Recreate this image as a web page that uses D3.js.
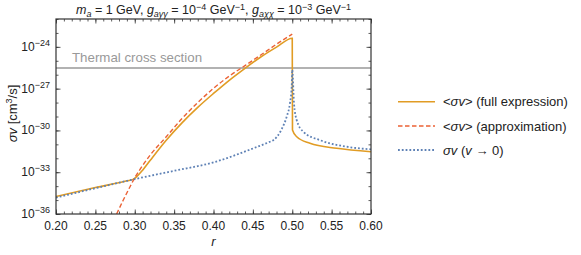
<!DOCTYPE html>
<html lang="en">
<head>
<meta charset="UTF-8">
<title>Annihilation cross section</title>
<script src="https://d3js.org/d3.v7.min.js"></script>
<style>
  body { margin: 0; background: #fff; font-family: "Liberation Sans", Arial, sans-serif; }
  svg text { fill: #222; }
</style>
</head>
<body>
<svg width="581" height="255"></svg>
<script>
// values (r, sigma v in cm^3/s)
const fullR   = [0.20, 0.25, 0.29, 0.2985, 0.3025, 0.31, 0.32, 0.34, 0.36, 0.38, 0.40, 0.42, 0.44, 0.46, 0.48, 0.50, 0.5003, 0.5057, 0.5225, 0.5564, 0.60];
const fullSv  = [1.8e-35, 7.9e-35, 2.4e-34, 3.2e-34, 4.8e-34, 1.4e-33, 7.6e-33, 2.0e-31, 3.5e-30, 4.5e-29, 4.5e-28, 4.0e-27, 2.9e-26, 1.86e-25, 9.5e-25, 4.2e-24, 1.07e-30, 3.5e-31, 1.2e-31, 5.2e-32, 2.95e-32];

const approxR  = [0.277, 0.285, 0.294, 0.30, 0.3067, 0.32, 0.34, 0.36, 0.38, 0.40, 0.42, 0.44, 0.46, 0.48, 0.50];
const approxSv = [1e-36, 8.9e-36, 9.1e-35, 4.0e-34, 1.6e-33, 1.8e-32, 3.5e-31, 7.1e-30, 1e-28, 1.05e-27, 7.9e-27, 4.5e-26, 2.6e-25, 1.55e-24, 8.3e-24];

const zeroR  = [0.20, 0.25, 0.30, 0.35, 0.40, 0.4506, 0.4717, 0.476, 0.486, 0.493, 0.4971, 0.4993, 0.50, 0.5022, 0.5056, 0.514, 0.5352, 0.5691, 0.60];
const zeroSv = [1.5e-35, 7.1e-35, 3.2e-34, 1.26e-33, 5.1e-33, 5.2e-32, 1.55e-31, 2.0e-31, 1.07e-30, 1e-29, 8.9e-29, 1.4e-27, 2.2e-26, 8.9e-29, 5.6e-30, 8.1e-31, 2.0e-31, 6.8e-32, 4.4e-32];

const thermal = 3e-26;

const xTicks = [0.20, 0.25, 0.30, 0.35, 0.40, 0.45, 0.50, 0.55, 0.60];
const yTickExp = [-36, -33, -30, -27, -24];

const svg = d3.select("svg");
const mLeft = 56, mRight = 371, mTop = 19, mBottom = 214;

const x = d3.scaleLinear().domain([0.2, 0.6]).range([mLeft, mRight]);
const y = d3.scaleLog().domain([1e-36, 1e-22]).range([mBottom, mTop]);

const frameColor = "#333";

svg.append("clipPath").attr("id", "plot")
  .append("rect").attr("x", mLeft).attr("y", mTop)
  .attr("width", mRight - mLeft).attr("height", mBottom - mTop);

// ticks (inward, on all four sides)
const xMinor = d3.range(0.20, 0.6001, 0.01);
const yMinor = d3.range(-36, -21).map(e => Math.pow(10, e));
const yMajor = yTickExp.map(e => Math.pow(10, e));

function tickAxis(axisFn, scale, vals, size, tr) {
  svg.append("g").attr("transform", tr)
    .call(axisFn(scale).tickValues(vals).tickSizeInner(-size).tickSizeOuter(0).tickFormat(""))
    .call(g => g.select(".domain").remove())
    .call(g => g.selectAll("line").attr("stroke", frameColor).attr("stroke-width", 0.8));
}
tickAxis(d3.axisBottom, x, xMinor, 2.5, `translate(0,${mBottom})`);
tickAxis(d3.axisBottom, x, xTicks, 4.5, `translate(0,${mBottom})`);
tickAxis(d3.axisTop, x, xMinor, 2.5, `translate(0,${mTop})`);
tickAxis(d3.axisTop, x, xTicks, 4.5, `translate(0,${mTop})`);
tickAxis(d3.axisLeft, y, yMinor, 2.5, `translate(${mLeft},0)`);
tickAxis(d3.axisLeft, y, yMajor, 4.5, `translate(${mLeft},0)`);
tickAxis(d3.axisRight, y, yMinor, 2.5, `translate(${mRight},0)`);
tickAxis(d3.axisRight, y, yMajor, 4.5, `translate(${mRight},0)`);

// tick labels
svg.append("g").selectAll("text").data(xTicks).join("text")
  .attr("x", d => x(d)).attr("y", 230)
  .attr("text-anchor", "middle").attr("font-size", 12)
  .text(d => d.toFixed(2));

const yl = svg.append("g").selectAll("text").data(yTickExp).join("text")
  .attr("x", 50).attr("y", d => y(Math.pow(10, d)) + 4)
  .attr("text-anchor", "end").attr("font-size", 12);
yl.append("tspan").text("10");
yl.append("tspan").attr("dy", -5).attr("font-size", 9).text(d => "\u2212" + Math.abs(d));

// thermal line
svg.append("line")
  .attr("x1", mLeft).attr("x2", mRight)
  .attr("y1", y(thermal)).attr("y2", y(thermal))
  .attr("stroke", "#999").attr("stroke-width", 1.5);
svg.append("text").attr("x", 72).attr("y", y(thermal) - 6)
  .attr("font-size", 13.3).style("fill", "#999").text("Thermal cross section");

// curves
const line = d3.line().x(d => x(d[0])).y(d => y(d[1])).curve(d3.curveMonotoneX);
const plot = svg.append("g").attr("clip-path", "url(#plot)");

const series = [
  { r: fullR, v: fullSv, color: "#E19C24", dash: null, w: 1.6, name: "full" },
  { r: approxR, v: approxSv, color: "#EB6235", dash: "4.5,2.5", w: 1.4, name: "approx" },
  { r: zeroR, v: zeroSv, color: "#5E81B5", dash: "1.8,2", w: 1.8, name: "zero" }
];
series.forEach(s => {
  plot.append("path")
    .datum(d3.zip(s.r, s.v))
    .attr("d", line)
    .attr("fill", "none")
    .attr("stroke", s.color)
    .attr("stroke-width", s.w)
    .attr("stroke-dasharray", s.dash);
});

// frame
svg.append("rect").attr("x", mLeft).attr("y", mTop)
  .attr("width", mRight - mLeft).attr("height", mBottom - mTop)
  .attr("fill", "none").attr("stroke", frameColor).attr("stroke-width", 1.2);

// title
const title = svg.append("text").attr("x", (mLeft + mRight) / 2).attr("y", 14)
  .attr("text-anchor", "middle").attr("font-size", 12.5);
title.append("tspan").attr("font-style", "italic").text("m");
title.append("tspan").attr("dy", 2.5).attr("font-size", 9).attr("font-style", "italic").text("a");
title.append("tspan").attr("dy", -2.5).text(" = 1 GeV, ");
title.append("tspan").attr("font-style", "italic").text("g");
title.append("tspan").attr("dy", 2.5).attr("font-size", 9).attr("font-style", "italic").text("a\u03b3\u03b3");
title.append("tspan").attr("dy", -2.5).text(" = 10");
title.append("tspan").attr("dy", -4.5).attr("font-size", 9).text("\u22124");
title.append("tspan").attr("dy", 4.5).text(" GeV");
title.append("tspan").attr("dy", -4.5).attr("font-size", 9).text("\u22121");
title.append("tspan").attr("dy", 4.5).text(", ");
title.append("tspan").attr("font-style", "italic").text("g");
title.append("tspan").attr("dy", 2.5).attr("font-size", 9).attr("font-style", "italic").text("a\u03c7\u03c7");
title.append("tspan").attr("dy", -2.5).text(" = 10");
title.append("tspan").attr("dy", -4.5).attr("font-size", 9).text("\u22123");
title.append("tspan").attr("dy", 4.5).text(" GeV");
title.append("tspan").attr("dy", -4.5).attr("font-size", 9).text("\u22121");

// axis titles
const yt = svg.append("text")
  .attr("transform", `translate(17,${(mTop + mBottom) / 2 - 3}) rotate(-90)`)
  .attr("text-anchor", "middle").attr("font-size", 13);
yt.append("tspan").attr("font-style", "italic").text("\u03c3v");
yt.append("tspan").text(" [cm");
yt.append("tspan").attr("dy", -5).attr("font-size", 9).text("3");
yt.append("tspan").attr("dy", 5).text("/s]");

svg.append("text").attr("x", (mLeft + mRight) / 2).attr("y", 246)
  .attr("text-anchor", "middle").attr("font-size", 13)
  .attr("font-style", "italic").text("r");

// legend
const legendRows = [101.7, 126, 150];
const lg = svg.append("g");
series.forEach((s, i) => {
  lg.append("line").attr("x1", 398).attr("x2", 435)
    .attr("y1", legendRows[i]).attr("y2", legendRows[i])
    .attr("stroke", s.color).attr("stroke-width", s.w)
    .attr("stroke-dasharray", s.dash);
});
function legText(i) {
  return lg.append("text").attr("x", 443).attr("y", legendRows[i] + 4.5).attr("font-size", 13);
}
let t = legText(0);
t.append("tspan").text("<");
t.append("tspan").attr("font-style", "italic").text("\u03c3v");
t.append("tspan").text("> (full expression)");
t = legText(1);
t.append("tspan").text("<");
t.append("tspan").attr("font-style", "italic").text("\u03c3v");
t.append("tspan").text("> (approximation)");
t = legText(2);
t.append("tspan").attr("font-style", "italic").text("\u03c3v");
t.append("tspan").text(" (");
t.append("tspan").attr("font-style", "italic").text("v");
t.append("tspan").text(" \u2192 0)");
</script>
</body>
</html>
